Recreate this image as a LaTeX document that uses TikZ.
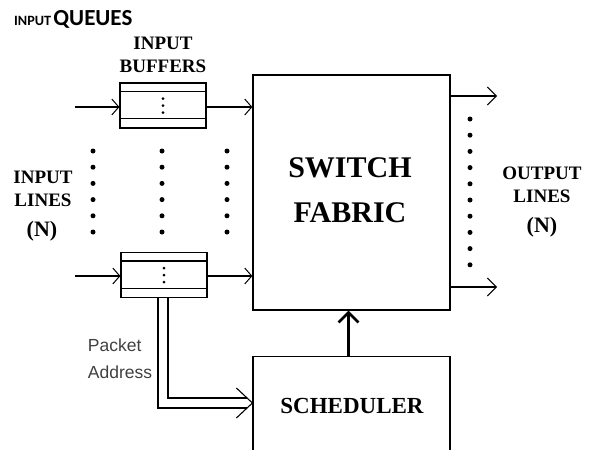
\documentclass[tikz,border=0pt]{standalone}
\usepackage{fontspec}
\setmainfont{Liberation Serif}
\newfontfamily\titlefont{Carlito}
\newfontfamily\labsans{Liberation Sans}
\usetikzlibrary{arrows.meta}
\begin{document}
\begin{tikzpicture}[x=1pt,y=-1pt,
  box/.style={draw,line width=1.2pt,inner sep=0pt},
  buf/.style={draw,line width=1.1pt,minimum width=86pt,minimum height=45pt,inner sep=0pt},
  lbl/.style={align=center,font=\bfseries\fontsize{19}{23}\selectfont,inner sep=0pt},
  inarrow/.style={line width=1.1pt,-{Straight Barb[length=7pt,width=16pt,line width=1pt]}},
  outarrow/.style={line width=1.1pt,-{Straight Barb[length=9pt,width=18pt,line width=1pt]}},
  dot/.style={fill,circle,inner sep=0pt,minimum size=5pt}]
\useasboundingbox (0,0) rectangle (595,450);
\clip (0,0) rectangle (595,450);
% title
\node[anchor=base west,inner sep=0pt] (title) at (14,25) {\titlefont\bfseries{\fontsize{14.2}{16}\selectfont INPUT} {\fontsize{23}{26}\selectfont QUEUES}};
% switch fabric
\node[box,minimum width=197pt,minimum height=235pt] (fab) at (351.5,192.5) {};
\node[inner sep=0pt,align=center,font=\bfseries\fontsize{30}{45}\selectfont] (fabtxt) at (350,190) {SWITCH\\FABRIC};
% scheduler
\node[box,minimum width=197pt,minimum height=110pt,anchor=north] (sched) at (351.5,356) {};
\node[inner sep=0pt,font=\bfseries\fontsize{23}{28}\selectfont] (schedtxt) at (352,406) {SCHEDULER};
% buffers
\node[buf] (b1) at (163,105.5) {};
\node[buf] (b2) at (164,275) {};
\foreach \b in {b1,b2}{
  \draw[line width=1.1pt] ([yshift=-9pt]\b.north west) -- ([yshift=-9pt]\b.north east);
  \draw[line width=1.1pt] ([yshift=10pt]\b.south west) -- ([yshift=10pt]\b.south east);
  \foreach \dy in {-7,0,7}
    \fill ([yshift=\dy pt]\b.center) circle (1.5pt);
}
% input arrows
\coordinate (i1) at (75,107);
\coordinate (i2) at (75,276);
\draw[inarrow] (i1) -- (i1 -| b1.west);
\draw[inarrow] (i2) -- (i2 -| b2.west);
\draw[inarrow] (i1 -| b1.east) -- (i1 -| fab.west);
\draw[inarrow] (i2 -| b2.east) -- (i2 -| fab.west);
% output arrows
\coordinate (o1) at (497,96);
\coordinate (o2) at (497,287);
\draw[outarrow] (o1 -| fab.east) -- (o1);
\draw[outarrow] (o2 -| fab.east) -- (o2);
% dots
\foreach \x in {93,162,227}
  \foreach \i in {0,...,5}
    \node[dot] at (\x,151+16.2*\i) {};
\foreach \i in {0,...,9}
  \node[dot] at (470,119+16.2*\i) {};
% labels
\node[lbl] (inlab) at (43,189) {INPUT\\LINES};
\node[lbl,font=\bfseries\fontsize{22}{26}\selectfont] (inN) at (42,231) {(N)};
\node[lbl] (buflab) at (163,55) {INPUT\\BUFFERS};
\node[lbl] (outlab) at (542,185) {OUTPUT\\LINES};
\node[lbl,font=\bfseries\fontsize{22}{26}\selectfont] (outN) at (542,227) {(N)};
\node[align=left,inner sep=0pt,font=\labsans\fontsize{17.5}{27}\selectfont,text=black!75] (pa) at (120,359) {Packet\\Address};
% scheduler to fabric
\draw[line width=3pt,-{Straight Barb[length=10pt,width=20pt,line width=2.6pt]}] ([xshift=-3pt]sched.north) -- ([xshift=-3pt]fab.south);
% packet address double arrow
\coordinate (pt) at (163,403);
\coordinate (pe) at (247,403);
\draw[line width=1.1pt,double distance=8.9pt] (b2.south -| pt) -- (pt) -- (pe);
\draw[line width=1.1pt] ([shift={(-16pt,-15pt)}]sched.west |- pe) -- (sched.west |- pe) -- ([shift={(-16pt,15pt)}]sched.west |- pe);
\end{tikzpicture}
\end{document}
